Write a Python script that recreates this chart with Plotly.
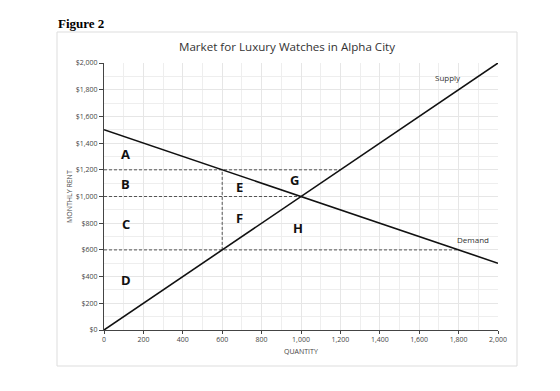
import plotly.graph_objects as go

# Data
demand_q = [0, 2000]
demand_p = [1500, 500]
supply_q = [0, 2000]
supply_p = [0, 2000]

# dashed guide segments (x list, y list)
guides = [
    ([0, 1200], [1200, 1200]),
    ([0, 1000], [1000, 1000]),
    ([0, 1800], [600, 600]),
    ([600, 600], [600, 1200]),
]

area_labels = ["A", "B", "C", "D", "E", "F", "G", "H"]
area_x = [110, 110, 110, 110, 690, 690, 965, 985]
area_y = [1320, 1095, 795, 375, 1070, 840, 1125, 765]

x_ticks = list(range(0, 2001, 200))
x_ticktext = ["0"] + [f"{v:,}" for v in x_ticks[1:]]
y_ticks = list(range(0, 2001, 200))
y_ticktext = [f"${v:,}" for v in y_ticks]

W, H = 560, 391
L, R, T, B = 104, 498, 63, 330

fig = go.Figure()
for gx, gy in guides:
    fig.add_trace(go.Scatter(x=gx, y=gy, mode="lines",
                             line=dict(color="#555555", width=1, dash="3px,2px"),
                             hoverinfo="skip", showlegend=False))
fig.add_trace(go.Scatter(x=demand_q, y=demand_p, mode="lines",
                         line=dict(color="#111111", width=1.6), showlegend=False))
fig.add_trace(go.Scatter(x=supply_q, y=supply_p, mode="lines",
                         line=dict(color="#111111", width=1.6), showlegend=False))

for t, x, y in zip(area_labels, area_x, area_y):
    fig.add_annotation(x=x, y=y, text=f"<b>{t}</b>", showarrow=False,
                       font=dict(family="Open Sans, Liberation Sans", size=13, color="#111111"))

fig.add_annotation(x=1745, y=1890, text="Supply", showarrow=False,
                   font=dict(family="Open Sans, Liberation Sans", size=8, color="#333333"))
fig.add_annotation(x=1875, y=675, text="Demand", showarrow=False,
                   font=dict(family="Open Sans, Liberation Sans", size=8, color="#333333"))

def px_to_paper_x(px):
    return (px - L) / (R - L)

def px_to_paper_y(py):
    return (B - py) / (B - T)

# chart border
fig.add_shape(type="rect", xref="paper", yref="paper",
              x0=px_to_paper_x(57), x1=px_to_paper_x(517),
              y0=px_to_paper_y(366), y1=px_to_paper_y(32),
              line=dict(color="#dddddd", width=1), layer="below")

fig.add_annotation(xref="paper", yref="paper", x=px_to_paper_x(56), y=px_to_paper_y(23),
                   xanchor="left", yanchor="middle", showarrow=False,
                   text="<b>Figure 2</b>",
                   font=dict(family="Liberation Serif", size=13, color="#000000"))

fig.add_annotation(xref="paper", yref="paper", x=px_to_paper_x(287), y=px_to_paper_y(46),
                   xanchor="center", yanchor="middle", showarrow=False,
                   text="Market for Luxury Watches in Alpha City",
                   font=dict(family="Open Sans, Liberation Sans", size=11.6, color="#333333"))

fig.add_annotation(xref="paper", yref="paper", x=px_to_paper_x(301), y=px_to_paper_y(351),
                   xanchor="center", yanchor="middle", showarrow=False,
                   text="QUANTITY",
                   font=dict(family="Open Sans, Liberation Sans", size=7, color="#444444"))

fig.add_annotation(xref="paper", yref="paper", x=px_to_paper_x(69), y=px_to_paper_y(197),
                   xanchor="center", yanchor="middle", showarrow=False, textangle=-90,
                   text="MONTHLY RENT",
                   font=dict(family="Open Sans, Liberation Sans", size=7, color="#444444"))

fig.update_layout(
    width=W, height=H,
    margin=dict(l=L, r=W - R, t=T, b=H - B, pad=0),
    paper_bgcolor="white", plot_bgcolor="white",
    xaxis=dict(range=[0, 2000], tickmode="array", tickvals=x_ticks, ticktext=x_ticktext,
               showgrid=True, gridcolor="#e6e6e6", gridwidth=1,
               minor=dict(dtick=100, showgrid=True, gridcolor="#eeeeee", gridwidth=1),
               showline=True, linecolor="#444444", linewidth=1,
               ticks="outside", ticklen=3, tickcolor="#444444",
               tickfont=dict(family="Open Sans, Liberation Sans", size=7, color="#444444"),
               zeroline=False, fixedrange=True),
    yaxis=dict(range=[0, 2000], tickmode="array", tickvals=y_ticks, ticktext=y_ticktext,
               showgrid=True, gridcolor="#e6e6e6", gridwidth=1,
               minor=dict(dtick=100, showgrid=True, gridcolor="#eeeeee", gridwidth=1),
               showline=True, linecolor="#444444", linewidth=1,
               ticks="outside", ticklen=4, tickcolor="#444444",
               tickfont=dict(family="Open Sans, Liberation Sans", size=7, color="#444444"),
               zeroline=False, fixedrange=True),
)

fig.write_html("out.html")
